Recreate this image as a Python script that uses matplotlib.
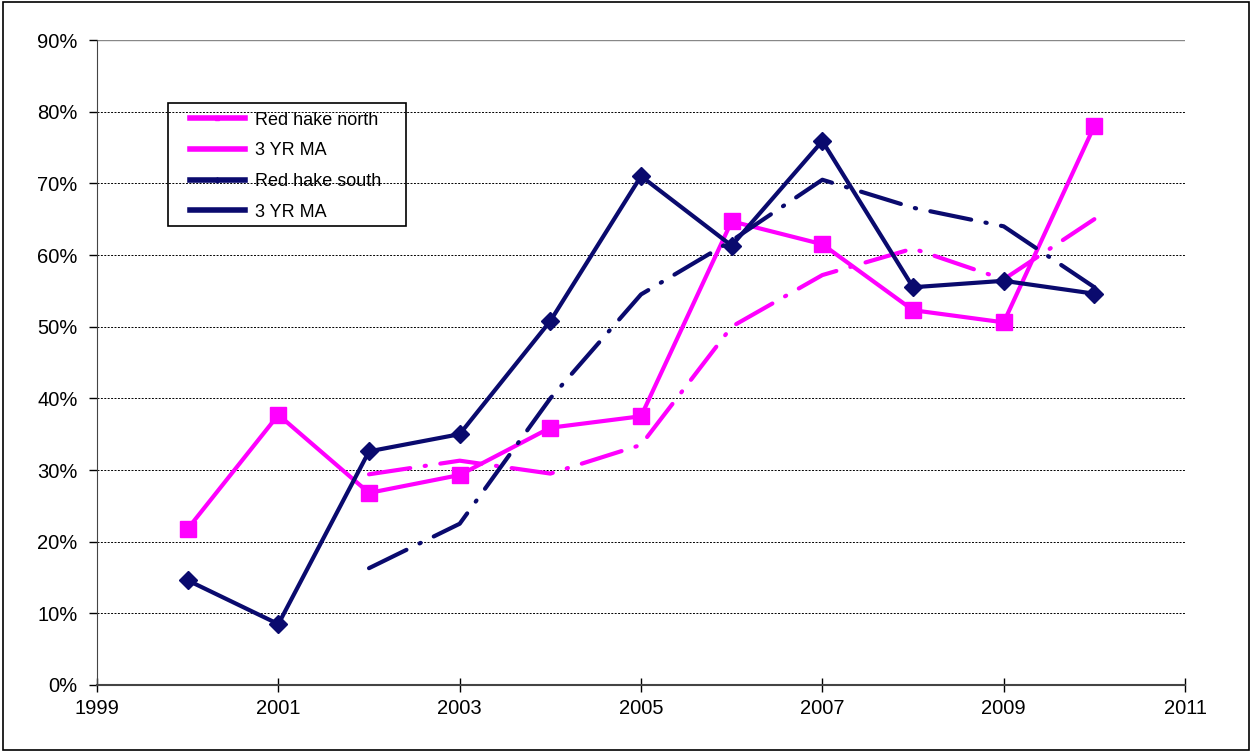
import numpy as np
import matplotlib.pyplot as plt
from matplotlib.patches import Rectangle

plt.rcParams['font.family'] = ['Liberation Sans', 'DejaVu Sans']

# data
years = [2000, 2001, 2002, 2003, 2004, 2005, 2006, 2007, 2008, 2009, 2010]
north = [21.8, 37.7, 26.8, 29.3, 35.9, 37.5, 64.7, 61.5, 52.3, 50.6, 78.0]
south = [14.6, 8.5, 32.6, 35.0, 50.8, 71.0, 61.3, 75.9, 55.5, 56.4, 54.6]
ma_years = [2002, 2003, 2004, 2005, 2006, 2007, 2008, 2009, 2010]
north_ma = [29.4, 31.3, 29.5, 33.5, 50.0, 57.2, 60.9, 56.6, 65.0]
south_ma = [16.3, 22.5, 40.0, 54.5, 62.0, 70.5, 66.6, 64.0, 55.5]

pink = '#ff00ff'
navy = '#0a0a6e'
dashdot = (0, (10, 3.5, 0.3, 3.5))

fig = plt.figure(figsize=(12.52, 7.52), dpi=100)
ax = fig.add_axes([0.0775, 0.0891, 0.869, 0.8577])

ax.plot(years, north, color=pink, lw=3, marker='s', markersize=12,
        label='Red hake north')
ax.plot(ma_years, north_ma, color=pink, lw=3, linestyle=dashdot,
        dash_capstyle='round', label='3 YR MA')
ax.plot(years, south, color=navy, lw=3, marker='D', markersize=9,
        label='Red hake south')
ax.plot(ma_years, south_ma, color=navy, lw=3, linestyle=dashdot,
        dash_capstyle='round', label='3 YR MA')

ax.set_xlim(1999, 2011)
ax.set_ylim(0, 90)
ax.set_xticks(range(1999, 2012, 2))
ax.set_yticks(range(0, 91, 10))
ax.set_yticklabels([f'{v}%' for v in range(0, 91, 10)])
ax.tick_params(axis='both', labelsize=14.5, length=6, width=1, direction='out')
ax.tick_params(axis='y', pad=8)
ax.tick_params(axis='x', direction='inout', length=10, pad=5)

for v in range(10, 90, 10):
    ax.axhline(v, color='black', lw=0.7, linestyle=(0, (2, 1.5)), zorder=0)
ax.axhline(90, color='#888888', lw=1, zorder=0)

ax.spines['top'].set_visible(False)
ax.spines['right'].set_visible(False)
ax.spines['left'].set_color('#444444')
ax.spines['bottom'].set_color('#444444')
ax.spines['bottom'].set_linewidth(1.5)

# legend without its own frame, box drawn separately
handles, labels = ax.get_legend_handles_labels()
leg = ax.legend(handles, labels, loc='upper left',
                bbox_to_anchor=(0.085, 0.889), fontsize=13, frameon=False,
                borderpad=0, borderaxespad=0, labelspacing=0.76,
                handlelength=3.1, handletextpad=0.55, markerscale=0.3)
for line in leg.get_lines():
    line.set_linestyle('-')
    line.set_linewidth(4)
ax.add_patch(Rectangle((0.0653, 0.7109), 0.2188, 0.1922, transform=ax.transAxes,
                       fill=False, edgecolor='black', lw=1.2, zorder=5))

fig.patches.append(Rectangle((0.002, 0.002), 0.996, 0.996, transform=fig.transFigure,
                             fill=False, edgecolor='black', lw=1.2))

fig.savefig('out.png', dpi=100)
